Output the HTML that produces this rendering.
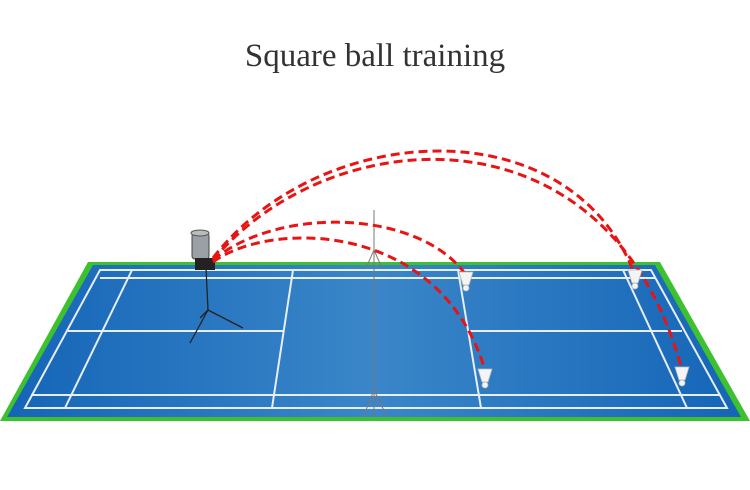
<!DOCTYPE html>
<html><head><style>
body{margin:0;width:750px;height:485px;background:#fff;overflow:hidden}
</style></head><body>
<svg width="750" height="485" viewBox="0 0 750 485" xmlns="http://www.w3.org/2000/svg">
<defs>
<linearGradient id="g" x1="0" x2="1" y1="0" y2="0">
<stop offset="0" stop-color="#1565b8"/><stop offset="0.5" stop-color="#3a86c8"/><stop offset="1" stop-color="#1565b8"/>
</linearGradient>
</defs>
<text x="375" y="66" text-anchor="middle" font-family="Liberation Serif, serif" font-size="33" fill="#333">Square ball training</text>
<polygon points="88,262 660,262 750,421 0,421" fill="#3ec12e"/>
<polygon points="93,265 655,265 741,417 7,417" fill="url(#g)"/>
<g stroke="#e8eef5" stroke-width="2" fill="none">
<polygon points="100,270 651,270 727,408 25,408"/>
<line x1="100" y1="278" x2="655" y2="278"/>
<line x1="31" y1="395" x2="720" y2="395"/>
<line x1="132" y1="270" x2="65" y2="408"/>
<line x1="623" y1="270" x2="687" y2="408"/>
<line x1="293" y1="270" x2="272" y2="408"/>
<line x1="458" y1="270" x2="481" y2="408"/>
<line x1="68" y1="331" x2="283" y2="331"/>
<line x1="469" y1="331" x2="682" y2="331"/>
</g>
<g stroke="#777" stroke-width="1" fill="none">
<line x1="374" y1="210" x2="374" y2="418"/>
<line x1="374" y1="250" x2="366" y2="268"/><line x1="374" y1="250" x2="382" y2="268"/>
<line x1="374" y1="390" x2="364" y2="415"/><line x1="374" y1="390" x2="386" y2="415"/>
</g>
<g stroke="#222" stroke-width="1.3" fill="none">
<line x1="206" y1="268" x2="208" y2="310"/>
<line x1="208" y1="310" x2="190" y2="343"/>
<line x1="208" y1="310" x2="243" y2="328"/>
<line x1="208" y1="310" x2="200" y2="318"/>
</g>
<rect x="192" y="233" width="17" height="26" rx="3" fill="#9aa0a6" stroke="#444"/>
<ellipse cx="200" cy="233" rx="9" ry="3" fill="#bbb" stroke="#555"/>
<rect x="195" y="258" width="20" height="12" fill="#222"/>
<g stroke="#e81414" stroke-width="3" fill="none" stroke-dasharray="9,5">
<path d="M213,260 C280,205 420,210 466,275"/>
<path d="M213,262 C270,220 440,220 485,370"/>
<path d="M213,258 C320,120 570,105 635,275"/>
<path d="M213,260 C330,120 610,100 682,370"/>
</g>
<g fill="#f4f4f4" stroke="#bbb" stroke-width="0.8">
<path d="M459,272 L473,272 L469,285 L463,285Z"/><circle cx="466" cy="288" r="3"/>
<path d="M478,369 L492,369 L488,382 L482,382Z"/><circle cx="485" cy="385" r="3"/>
<path d="M628,270 L642,270 L638,283 L632,283Z"/><circle cx="635" cy="286" r="3"/>
<path d="M675,367 L689,367 L685,380 L679,380Z"/><circle cx="682" cy="383" r="3"/>
</g>
</svg>
</body></html>
